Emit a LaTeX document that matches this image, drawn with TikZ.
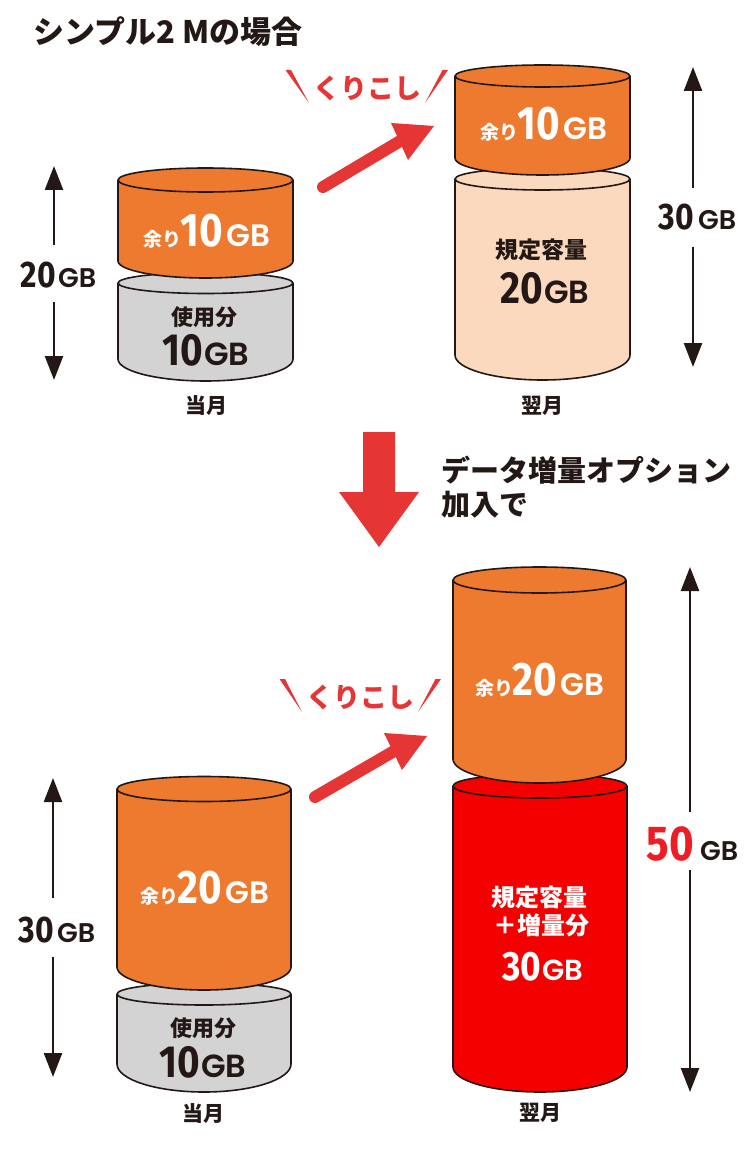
\documentclass[tikz,border=0pt]{standalone}
\usepackage{fontspec}
\usepackage{graphicx}
\usetikzlibrary{arrows.meta}
\newfontfamily\jp{Noto Sans CJK JP}
\newfontfamily\numfont{Fira Sans}
\newfontfamily\gbfont{Poppins SemiBold}
\definecolor{ink}{HTML}{231815}
\definecolor{orng}{HTML}{ED7A2E}
\definecolor{peach}{HTML}{FAD9BE}
\definecolor{greyc}{HTML}{D3D3D3}
\definecolor{redc}{HTML}{F50000}
\definecolor{arrowred}{HTML}{E53535}
\definecolor{redfifty}{HTML}{EE1D23}
\newcommand\J[2]{{\jp\bfseries\fontsize{#1}{#1}\selectfont #2}}
\newcommand\D[2]{{\numfont\bfseries\fontsize{#1}{#1}\selectfont\scalebox{0.86}[1]{#2}}}
\newcommand\G[1]{{\gbfont\fontsize{#1}{#1}\selectfont GB}}
% cylinder: cx, rx, top y, top ry, bottom y, bottom ry, fill
\newcommand\cyl[7]{%
  \filldraw[cylline, fill=#7] ({#1-#2},{-#3}) -- ({#1-#2},{-#5})
    arc[start angle=180,end angle=360,x radius=#2,y radius=#6]
    -- ({#1+#2},{-#3})
    arc[start angle=0,end angle=180,x radius=#2,y radius=#4] -- cycle;
  \draw[cylline] ({#1-#2},{-#3}) arc[start angle=180,end angle=360,x radius=#2,y radius=#4];
}
\begin{document}
\begin{tikzpicture}[x=1pt,y=1pt,
  cylline/.style={draw=ink, line width=1.6pt, line join=round},
  lbl/.style={inner sep=0pt, anchor=base},
  txt/.style={inner sep=0pt, text=ink},
  dim/.style={draw=ink, line width=2.4pt, -{Triangle[width=18pt,length=24pt]}},
  kuri/.style={draw=arrowred, line width=12pt, line cap=round},
  wedge/.style={fill=arrowred}]
\useasboundingbox[fill=white] (0,0) rectangle (750,-1150);

% title
\node[txt, anchor=west] (title) at (33,-32) {\J{31}{シンプル2 Mの場合}};

% ---------- top: current month ----------
\cyl{205.5}{87.5}{283}{10.5}{359}{22}{greyc}
\cyl{205.5}{87.5}{180}{12}{261}{17}{orng}
\node[lbl, text=white] (tlo) at (207,-247) {\J{19}{余り}\kern-1pt\D{47}{10}\kern3pt\G{31}};
\node[txt] (tlg1) at (204,-317) {\J{22}{使用分}};
\node[lbl, text=ink] (tlg2) at (206,-365) {\D{45}{10}\kern1pt\G{32}};
\node[txt] (m1) at (206,-406) {\J{21}{当月}};

% dimension 20GB
\node[lbl, anchor=base east, text=ink] (d1n) at (56,-287) {\D{37}{20}};
\node[lbl, anchor=base west, text=ink] (d1g) at (58,-287) {\G{27}};
\coordinate (d1ga) at (54,-245);
\coordinate (d1gb) at (54,-302);
\coordinate (d1t) at (54,-166);
\coordinate (d1b) at (54,-380);
\draw[dim] (d1ga) -- (d1t);
\draw[dim] (d1gb) -- (d1b);

% ---------- top: next month ----------
\cyl{542.5}{87.5}{179}{11}{355}{25}{peach}
\cyl{542.5}{87.5}{76}{11}{158}{17}{orng}
\node[lbl, text=white] (tro) at (544,-140) {\J{19}{余り}\kern-1pt\D{47}{10}\kern3pt\G{31}};
\node[txt] (trp1) at (541,-250) {\J{23}{規定容量}};
\node[lbl, text=ink] (trp2) at (545,-303) {\D{45}{20}\kern1pt\G{32}};
\node[txt] (m2) at (542,-406) {\J{21}{翌月}};

% dimension 30GB
\node[lbl, anchor=base east, text=ink] (d2n) at (694,-230) {\D{37}{30}};
\node[lbl, anchor=base west, text=ink] (d2g) at (698,-230) {\G{27}};
\coordinate (d2ga) at (693,-188);
\coordinate (d2gb) at (693,-247);
\coordinate (d2t) at (693,-67);
\coordinate (d2b) at (693,-367);
\draw[dim] (d2ga) -- (d2t);
\draw[dim] (d2gb) -- (d2b);

% kurikoshi (top)
\fill[wedge] (285.5,-70) -- (291,-70) -- (309,-103) -- cycle;
\fill[wedge] (442.5,-70) -- (448,-70) -- (425,-103) -- cycle;
\node[txt, text=arrowred] (k1) at (367,-88) {\J{27}{くりこし}};
\coordinate (k1s) at (323,-187);
\coordinate (k1e) at (402,-140);
\draw[kuri] (k1s) -- (k1e);
\fill[arrowred] (434,-126) -- (391,-123) -- (408,-160) -- cycle;

% ---------- down arrow ----------
\fill[arrowred] (363,-432) -- (395,-432) -- (395,-492) -- (419,-492) -- (379,-547) -- (339,-492) -- (363,-492) -- cycle;
\node[txt, anchor=west] (opt1) at (441,-470) {\J{29}{データ増量オプション}};
\node[txt, anchor=west] (opt2) at (441,-505) {\J{29}{加入で}};

% ---------- bottom: current month ----------
\cyl{204}{87}{994}{11}{1064}{28}{greyc}
\cyl{204}{87}{789}{12.5}{967}{23}{orng}
\node[lbl, text=white] (blo) at (205,-903) {\J{19}{余り}\kern-1pt\D{47}{20}\kern3pt\G{31}};
\node[txt] (blg1) at (203,-1028) {\J{22}{使用分}};
\node[lbl, text=ink] (blg2) at (203,-1077) {\D{45}{10}\kern1pt\G{32}};
\node[txt] (m3) at (203,-1114) {\J{21}{当月}};

% dimension 30GB
\node[lbl, anchor=base east, text=ink] (d3n) at (54,-942) {\D{37}{30}};
\node[lbl, anchor=base west, text=ink] (d3g) at (57,-942) {\G{27}};
\coordinate (d3ga) at (53,-898);
\coordinate (d3gb) at (53,-957);
\coordinate (d3t) at (53,-778);
\coordinate (d3b) at (53,-1077);
\draw[dim] (d3ga) -- (d3t);
\draw[dim] (d3gb) -- (d3b);

% ---------- bottom: next month ----------
\cyl{540}{87}{786}{12}{1067}{25}{redc}
\cyl{539.5}{86.5}{580}{13}{759}{24}{orng}
\node[lbl, text=white] (bro) at (540,-695) {\J{19}{余り}\kern-1pt\D{47}{20}\kern3pt\G{31}};
\node[txt, text=white] (brr1) at (539,-897) {\J{24}{規定容量}};
\node[txt, text=white] (brr2) at (541,-925) {\J{24}{＋増量分}};
\node[lbl, text=white] (brr3) at (543,-980) {\D{41}{30}\kern1pt\G{29}};
\node[txt] (m4) at (540,-1113) {\J{21}{翌月}};

% dimension 50GB
\node[lbl, anchor=base east, text=redfifty] (d4n) at (694,-860) {\D{49}{50}};
\node[lbl, anchor=base west, text=ink] (d4g) at (700,-860) {\G{27}};
\coordinate (d4ga) at (690,-812);
\coordinate (d4gb) at (690,-870);
\coordinate (d4t) at (690,-567);
\coordinate (d4b) at (690,-1092);
\draw[dim] (d4ga) -- (d4t);
\draw[dim] (d4gb) -- (d4b);

% kurikoshi (bottom)
\fill[wedge] (279.5,-679) -- (285,-679) -- (302,-712) -- cycle;
\fill[wedge] (435.5,-679) -- (441,-679) -- (418,-712) -- cycle;
\node[txt, text=arrowred] (k2) at (360,-697) {\J{27}{くりこし}};
\coordinate (k2s) at (315,-797);
\coordinate (k2e) at (396,-750);
\draw[kuri] (k2s) -- (k2e);
\fill[arrowred] (427,-736) -- (384,-733) -- (402,-770) -- cycle;
\end{tikzpicture}
\end{document}
